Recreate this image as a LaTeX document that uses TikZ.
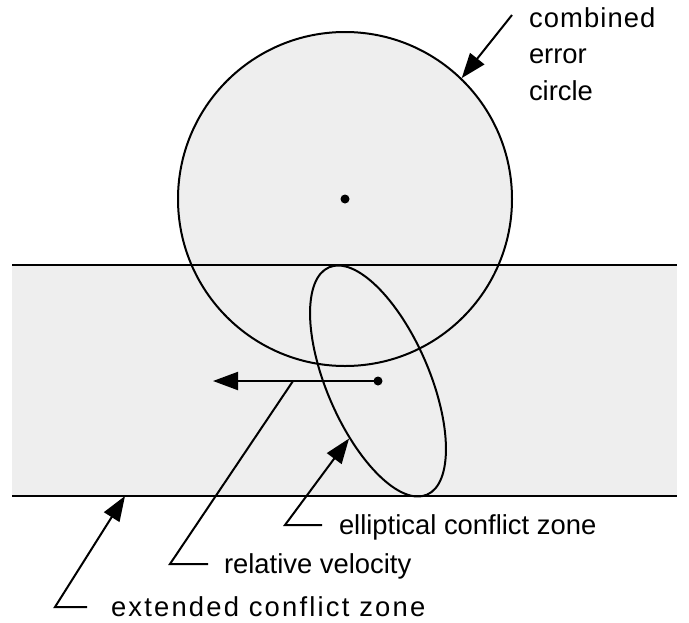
\documentclass[tikz,border=0pt]{standalone}
\usepackage{fontspec}
\setmainfont{Liberation Sans}
\newfontfamily\widefont[LetterSpace=8]{Liberation Sans}
\newfontfamily\halfwidefont[LetterSpace=4]{Liberation Sans}
\usetikzlibrary{arrows.meta,positioning,calc,shapes.geometric}
\definecolor{zonegray}{HTML}{EEEEEE}

\begin{document}
\begin{tikzpicture}[
    x=1pt, y=-1pt,
    font=\fontsize{27.4}{36.5}\selectfont,
    line width=2pt,
    arrow/.style={-{Triangle[length=25pt,width=18pt]}},
    zonetext/.style={anchor=base west, inner sep=0pt, align=left}
]

\useasboundingbox (0,0) rectangle (689,622);

\node[fill=zonegray, inner sep=0pt, outer sep=0pt, minimum width=665, minimum height=231, anchor=north west] (band) at (12,265) {};
\node[circle, draw, fill=zonegray, inner sep=0pt, minimum size=334] (errCircle) at (345,199) {};
\draw (band.north west) -- (band.north east);
\draw (band.south west) -- (band.south east);
\node[ellipse, draw, inner sep=0pt, minimum width=102.6, minimum height=247.6, rotate=23.3] (ellZone) at (378,381) {};

\fill (errCircle.center) circle (4.5);
\fill (ellZone.center) circle (4.5);

\coordinate (velTip) at (213,381);
\draw[arrow] (ellZone.center) -- (velTip);

\node[zonetext] (errLabel) at (528,100) {{\halfwidefont combined}\\error\\circle};
\node[zonetext] (ellLabel) at (338,534) {elliptical conflict zone};
\node[zonetext] (relLabel) at (223,573) {relative velocity};
\node[zonetext] (extLabel) at (110,616) {\widefont extended conflict zone};

\draw[arrow] ($(errLabel.base west)+(-16,-85)$) -- (errCircle.46);
\draw[arrow] ($(ellLabel.base west)+(-16,-9)$) -- ++(-37,0) -- (ellZone.220);
\draw ($(relLabel.base west)+(-15,-9)$) -- ++(-38,0) -- ($(ellZone.center)!0.515!(velTip)$);
\draw[arrow] ($(extLabel.base west)+(-23,-9)$) -- ++(-32,0) -- ($(band.south west)+(113,0)$);

\end{tikzpicture}
\end{document}
